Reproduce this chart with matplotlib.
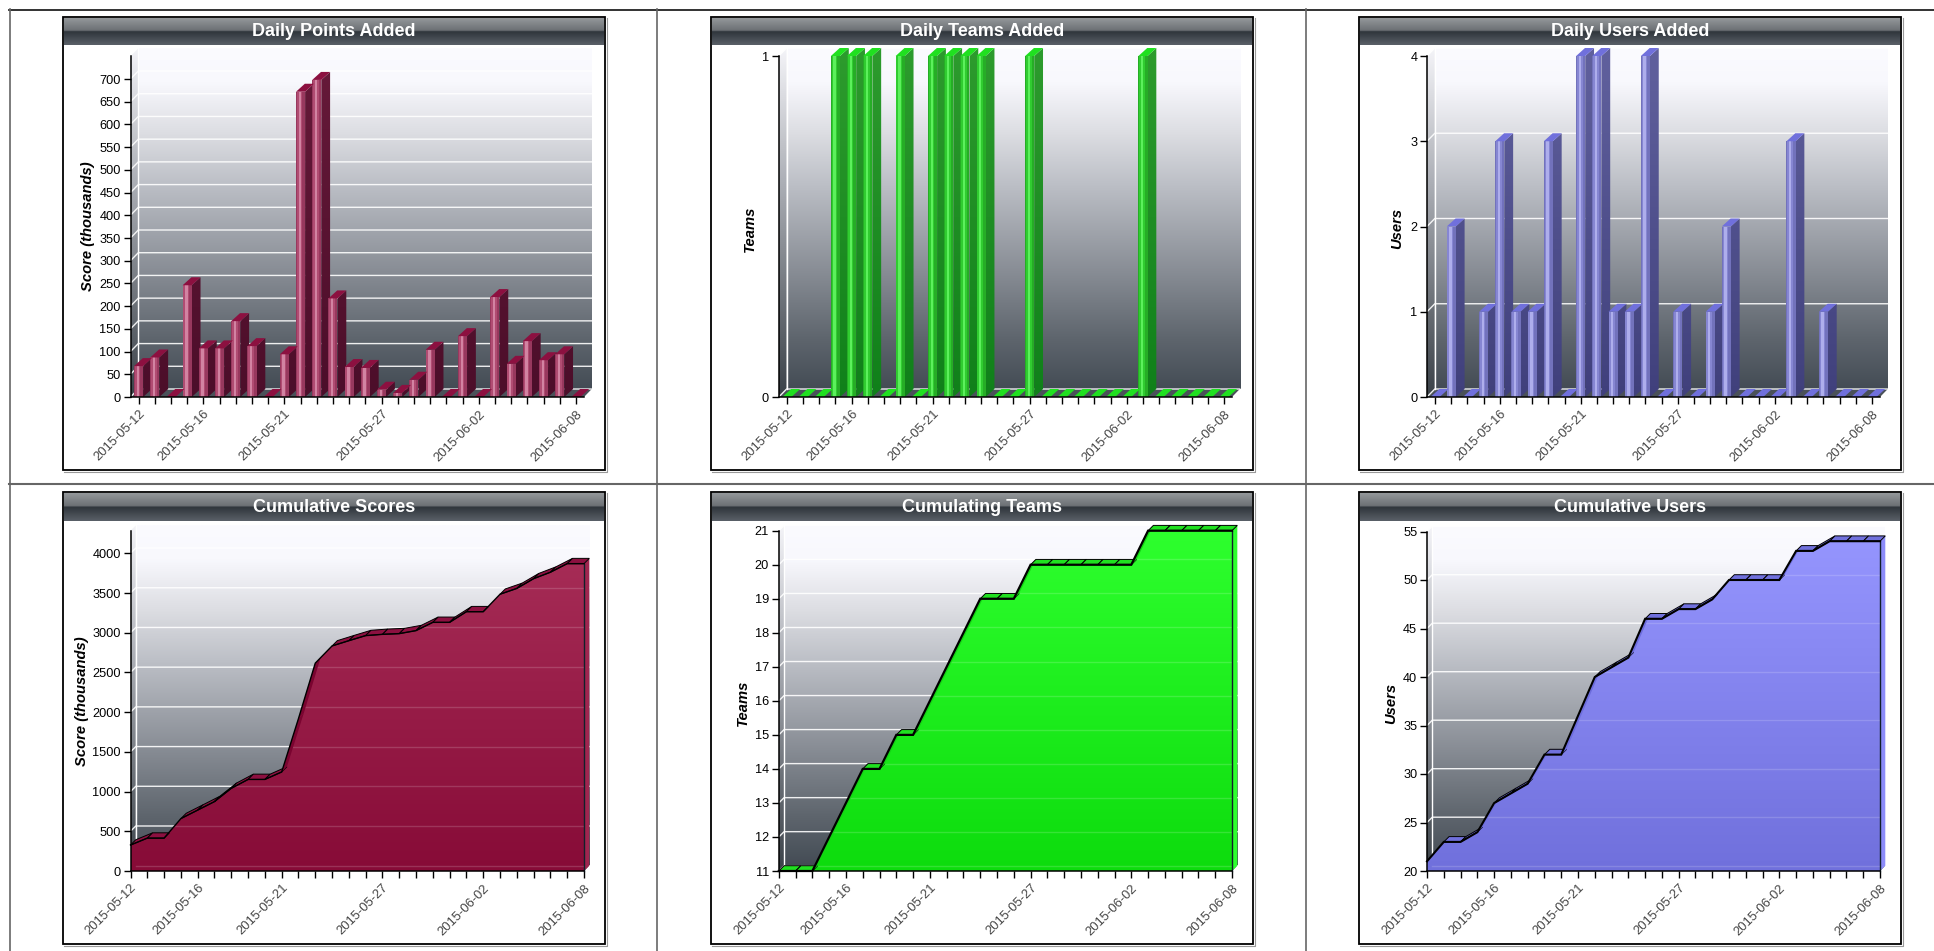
import numpy as np
import matplotlib
matplotlib.use("Agg")
import matplotlib.pyplot as plt
from matplotlib.colors import LinearSegmentedColormap
from matplotlib.lines import Line2D
from matplotlib.patches import Polygon, Rectangle
from matplotlib.path import Path
from matplotlib.transforms import IdentityTransform

W, H = 1934, 951

dates = ["2015-05-12", "2015-05-13", "2015-05-14", "2015-05-15", "2015-05-16", "2015-05-17", "2015-05-18",
         "2015-05-19", "2015-05-20", "2015-05-21", "2015-05-22", "2015-05-23", "2015-05-24", "2015-05-25",
         "2015-05-26", "2015-05-27", "2015-05-28", "2015-05-29", "2015-05-30", "2015-05-31", "2015-06-01",
         "2015-06-02", "2015-06-03", "2015-06-04", "2015-06-05", "2015-06-06", "2015-06-07", "2015-06-08"]
shown_dates = ["2015-05-12", "2015-05-16", "2015-05-21", "2015-05-27", "2015-06-02", "2015-06-08"]

daily_points = [68, 87, 0, 246, 107, 107, 167, 112, 0, 94, 672, 698, 217, 66,
                64, 16, 9, 38, 104, 0, 134, 0, 220, 73, 123, 81, 94, 0]
daily_teams = [0, 0, 0, 1, 1, 1, 0, 1, 0, 1, 1, 1, 1, 0,
               0, 1, 0, 0, 0, 0, 0, 0, 1, 0, 0, 0, 0, 0]
daily_users = [0, 2, 0, 1, 3, 1, 1, 3, 0, 4, 4, 1, 1, 4,
               0, 1, 0, 1, 2, 0, 0, 0, 3, 0, 1, 0, 0, 0]
total_points = [327, 414, 414, 660, 767, 874, 1041, 1153, 1153, 1247, 1919, 2617, 2834, 2900,
                2964, 2980, 2989, 3027, 3131, 3131, 3265, 3265, 3485, 3558, 3681, 3762, 3870, 3870]
total_teams = [11, 11, 11, 12, 13, 14, 14, 15, 15, 16, 17, 18, 19, 19,
               19, 20, 20, 20, 20, 20, 20, 20, 21, 21, 21, 21, 21, 21]
total_users = [21, 23, 23, 24, 27, 28, 29, 32, 32, 36, 40, 41, 42, 46,
               46, 47, 47, 48, 50, 50, 50, 50, 53, 53, 54, 54, 54, 54]

MAROON = dict(front="#98385e", mid="#b04c72", hi="#d283a2", side=("#681a3a", "#4c0e2a"), top="#8c1040",
              area=("#a92f59", "#870b37"), edge="#a0254f", sliver="#7a0430")
GREEN = dict(front="#26ad26", mid="#30cc30", hi="#5cf05c", side=("#2e9c2e", "#10801a"), top="#20e020",
             area=("#2eff2e", "#0ddc0d"), edge="#2dff2d", sliver="#14d414")
BLUE = dict(front="#7272bc", mid="#8686d2", hi="#aeaeec", side=("#62629f", "#40407c"), top="#7070dc",
            area=("#9696ff", "#7070dc"), edge="#8c8cfa", sliver="#6c6cdc")

WALL = [(0.0, "#fbfbff"), (0.1, "#f8f8fd"), (0.25, "#dcdde2"), (0.4, "#bcbfc6"),
        (0.66, "#878c94"), (0.85, "#5f666e"), (1.0, "#444c55")]
BAR = [(0.0, "#94989b"), (0.46, "#6c7074"), (0.5, "#2f353b"), (1.0, "#5a6068")]

plt.rcParams["font.family"] = ["Liberation Sans", "DejaVu Sans"]
fig = plt.figure(figsize=(W / 100, H / 100), dpi=100, facecolor="white")

bg = fig.add_axes([0, 0, 1, 1], zorder=0)
bg.set_xlim(0, W)
bg.set_ylim(H, 0)
bg.axis("off")


def ramp(stops):
    return LinearSegmentedColormap.from_list("ramp", stops, N=256)


def shade(ax, stops, extent, path=None, transform=None, zorder=1):
    """Vertical colour ramp over an extent, optionally cut out by a path."""
    im = ax.imshow(np.linspace(0, 1, 256)[:, None], cmap=ramp(stops), extent=extent, aspect="auto",
                   zorder=zorder, interpolation="bilinear")
    if path is not None:
        im.set_clip_path(path, transform)
        im.set_clip_box(fig.bbox)
    return im


# Table rules behind the six charts
for xs, ys, col, lw in [((9, W), (9.5, 9.5), "#222222", 1.3), ((9.5, 9.5), (9, H), "#666666", 1.2),
                        ((9, W), (483.5, 483.5), "#666666", 1.5), ((657, 657), (9, H), "#666666", 1.2),
                        ((1305.5, 1305.5), (9, H), "#666666", 1.2)]:
    bg.add_line(Line2D(xs, ys, color=col, lw=lw))


def pts(ax, x, y, dx=0.0, dy=0.0):
    p = ax.transData.transform(np.column_stack([np.atleast_1d(x), np.atleast_1d(y)]).astype(float))
    return p + np.array([dx, dy])


def poly(ax, p, **kw):
    ax.add_patch(Polygon(p, closed=True, transform=IdentityTransform(), clip_on=False, **kw))


def panel(frame, bar_bottom, title, ylabel, label_xy, axis_box, xlim, ylim, yticks, depth):
    left, right, top, bottom = frame
    bg.add_patch(Rectangle((left, top), right - left, bottom - top, fc="white", ec="black", lw=1.3, zorder=1))
    bg.add_line(Line2D((left + 1, right + 1.5, right + 1.5), (bottom + 1.5, bottom + 1.5, top + 1),
                       color="#9a9a9a", lw=0.8, zorder=1))
    shade(bg, BAR, (left + 1, right - 1, bar_bottom, top + 1), zorder=2)
    bg.text((left + right) / 2, (top + bar_bottom) / 2 + 0.5, title, color="white", fontsize=13, fontweight="bold",
            ha="center", va="center", zorder=3)

    x0, x1, ytop, y0 = axis_box
    dx, dy = depth
    ax = fig.add_axes([x0 / W, 1 - y0 / H, (x1 - x0) / W, (y0 - ytop) / H], zorder=2)
    ax.patch.set_visible(False)
    ax.set_xlim(*xlim)
    ax.set_ylim(*ylim)

    # Back wall, left wall and floor
    shade(bg, WALL, (x0 + dx, x1 + dx, y0 - dy, ytop - dy), zorder=2)
    side = np.array([[x0, y0], [x0 + dx, y0 - dy], [x0 + dx, ytop - dy], [x0, ytop]])
    side_path = Path(np.column_stack([side[:, 0], H - side[:, 1]]))
    shade(bg, [(0, "#f4f4f8"), (0.4, "#a9acb3"), (1, "#3a4148")], (x0, x0 + dx, y0, ytop - dy),
          path=side_path, transform=IdentityTransform(), zorder=2)
    floor = [(x0, y0), (x1, y0), (x1 + dx, y0 - dy), (x0 + dx, y0 - dy)]
    bg.add_patch(Polygon(floor, closed=True, fc="#4a5159", ec="none", zorder=2))
    bg.set_xlim(0, W)
    bg.set_ylim(H, 0)

    # Grid on the walls
    for t in yticks:
        a = pts(ax, xlim[0], t)
        b = pts(ax, xlim[1], t)
        ax.plot([a[0, 0], a[0, 0] + dx, b[0, 0] + dx], [a[0, 1], a[0, 1] + dy, b[0, 1] + dy],
                color="white", lw=1.0, alpha=0.9, transform=IdentityTransform(), clip_on=False, zorder=1)
    a = pts(ax, xlim[0], ylim[0], dx, dy)
    b = pts(ax, xlim[0], ylim[1], dx, dy)
    ax.plot([a[0, 0], b[0, 0]], [a[0, 1], b[0, 1]], color="white", lw=1.0,
            transform=IdentityTransform(), clip_on=False, zorder=1)

    ax.set_yticks(yticks)
    ax.set_xticks(np.arange(len(dates)))
    ax.set_xticklabels([d if d in shown_dates else "" for d in dates], rotation=45, ha="right",
                       rotation_mode="anchor", color="#444444", fontsize=9.4)
    ax.tick_params(axis="x", length=5, width=1, pad=3)
    ax.tick_params(axis="y", length=5, width=1, pad=2, labelsize=9.2, labelcolor="black")
    for s in ("top", "right"):
        ax.spines[s].set_visible(False)
    for s in ("left", "bottom"):
        ax.spines[s].set_linewidth(1.1)
        ax.spines[s].set_zorder(9)
    bg.text(label_xy[0], label_xy[1], ylabel, rotation=90, fontsize=10.6, fontweight="bold", fontstyle="italic",
            ha="center", va="center", color="black", zorder=3)
    return ax


def bars(ax, values, colors, depth, ymax):
    dx, dy = depth
    xs = np.arange(len(values))
    vals = np.array(values, dtype=float)
    w = 0.56
    ax.bar(xs, vals, width=w, color=colors["front"], zorder=4)
    ax.bar(xs - 0.06, vals, width=w * 0.62, color=colors["mid"], zorder=4)
    ax.bar(xs - 0.05, vals, width=w * 0.26, color=colors["hi"], zorder=4)
    verts, codes = [], []
    for x, v in zip(xs, vals):
        lo = pts(ax, x + w / 2, 0)[0]
        hi = pts(ax, x + w / 2, v)[0]
        lt = pts(ax, x - w / 2, v)[0]
        poly(ax, [lt, hi, hi + (dx, dy), lt + (dx, dy)], fc=colors["top"], ec="none", zorder=5)
        if v > 0:
            verts += [lo, hi, hi + (dx, dy), lo + (dx, dy), lo]
            codes += [Path.MOVETO, Path.LINETO, Path.LINETO, Path.LINETO, Path.CLOSEPOLY]
    faces = Path(np.array(verts), codes)
    pad = ymax * 0.05
    shade(ax, [(0, colors["side"][0]), (1, colors["side"][1])], (-0.5, 28.5, 0, ymax + pad),
          path=faces, transform=IdentityTransform(), zorder=3)
    ax.set_xlim(-0.5, 27.5)
    ax.set_ylim(0, ymax)


def area(ax, values, colors, depth, yticks, ylim, line_w):
    dx, dy = depth
    xs = np.arange(len(values))
    vals = np.array(values, dtype=float)
    line = pts(ax, xs, vals)
    base0 = pts(ax, xs[0], ylim[0])[0]
    base1 = pts(ax, xs[-1], ylim[0])[0]

    # Right-hand end of the solid
    poly(ax, [base1, line[-1], line[-1] + (dx, dy), base1 + (dx, dy)], fc=colors["edge"], ec="none", zorder=3)

    # Front face
    outline = np.vstack([base0, line, base1, base0])
    front = Path(outline, [Path.MOVETO] + [Path.LINETO] * (len(outline) - 2) + [Path.CLOSEPOLY])
    shade(ax, [(0, colors["area"][0]), (1, colors["area"][1])], (0, 27, ylim[0], ylim[1]),
          path=front, transform=IdentityTransform(), zorder=4)
    for t in yticks:
        a = pts(ax, 0, t, dx, dy)[0]
        b = pts(ax, 27, t, dx, dy)[0]
        g, = ax.plot([a[0], b[0]], [a[1], b[1]], color="white", lw=1.0, alpha=0.16,
                     transform=IdentityTransform(), zorder=4.5)
        g.set_clip_path(front, IdentityTransform())
        g.set_clip_box(fig.bbox)

    # Upper faces: steep rises only show as a sliver inside the front
    for i in range(len(xs) - 1):
        p, q = line[i], line[i + 1]
        steep = (q[1] - p[1]) * dx > dy * (q[0] - p[0])
        poly(ax, [p, q, q + (dx, dy), p + (dx, dy)], fc=colors["sliver"] if steep else colors["top"],
             ec="none" if steep else "black", lw=0 if steep else 0.7, zorder=5)
    # Closing edge of the right-hand end and the profile line
    ax.plot([base1[0], line[-1, 0]], [base1[1], line[-1, 1]], color="#10202a", lw=1.0,
            transform=IdentityTransform(), clip_on=False, zorder=6)
    ax.plot(xs, vals, color="black", lw=line_w, clip_on=False, zorder=6, solid_joinstyle="miter")


TOP_DEPTH = (7.8, 8.0)
BAR_DEPTH = (8.8, 8.0)
LOW_DEPTH = (5.3, 5.3)

ticks_points = list(range(0, 701, 50))
ax = panel((63, 605, 17, 470), 45, "Daily Points Added", "Score (thousands)", (88, 226),
           (130.5, 584, 56.3, 397), (-0.5, 27.5), (0, 750), ticks_points, TOP_DEPTH)
bars(ax, daily_points, MAROON, BAR_DEPTH, 750)

ax = panel((711, 1253, 17, 470), 45, "Daily Teams Added", "Teams", (750, 229),
           (778.8, 1232, 56, 397), (-0.5, 27.5), (0, 1), [0, 1], TOP_DEPTH)
bars(ax, daily_teams, GREEN, BAR_DEPTH, 1)

ax = panel((1359, 1901, 17, 470), 45, "Daily Users Added", "Users", (1397.6, 228),
           (1427, 1880, 56, 397), (-0.5, 27.5), (0, 4), [0, 1, 2, 3, 4], TOP_DEPTH)
bars(ax, daily_users, BLUE, BAR_DEPTH, 4)

ticks_total = list(range(0, 4001, 500))
ax = panel((63, 605, 492, 944), 521, "Cumulative Scores", "Score (thousands)", (82, 701),
           (130.5, 584, 530.7, 871), (0, 27), (0, 4285), ticks_total, LOW_DEPTH)
area(ax, total_points, MAROON, LOW_DEPTH, ticks_total, (0, 4285), 1.0)

ticks_teams = list(range(11, 22))
ax = panel((711, 1253, 492, 944), 521, "Cumulating Teams", "Teams", (743, 703),
           (778.8, 1232, 530.7, 871), (0, 27), (11, 21), ticks_teams, LOW_DEPTH)
area(ax, total_teams, GREEN, LOW_DEPTH, ticks_teams, (11, 21), 1.6)

ticks_users = list(range(20, 56, 5))
ax = panel((1359, 1901, 492, 944), 521, "Cumulative Users", "Users", (1391, 703),
           (1427, 1880, 531.5, 871), (0, 27), (20, 55), ticks_users, LOW_DEPTH)
area(ax, total_users, BLUE, LOW_DEPTH, ticks_users, (20, 55), 1.5)

fig.savefig("out.png", dpi=100)
